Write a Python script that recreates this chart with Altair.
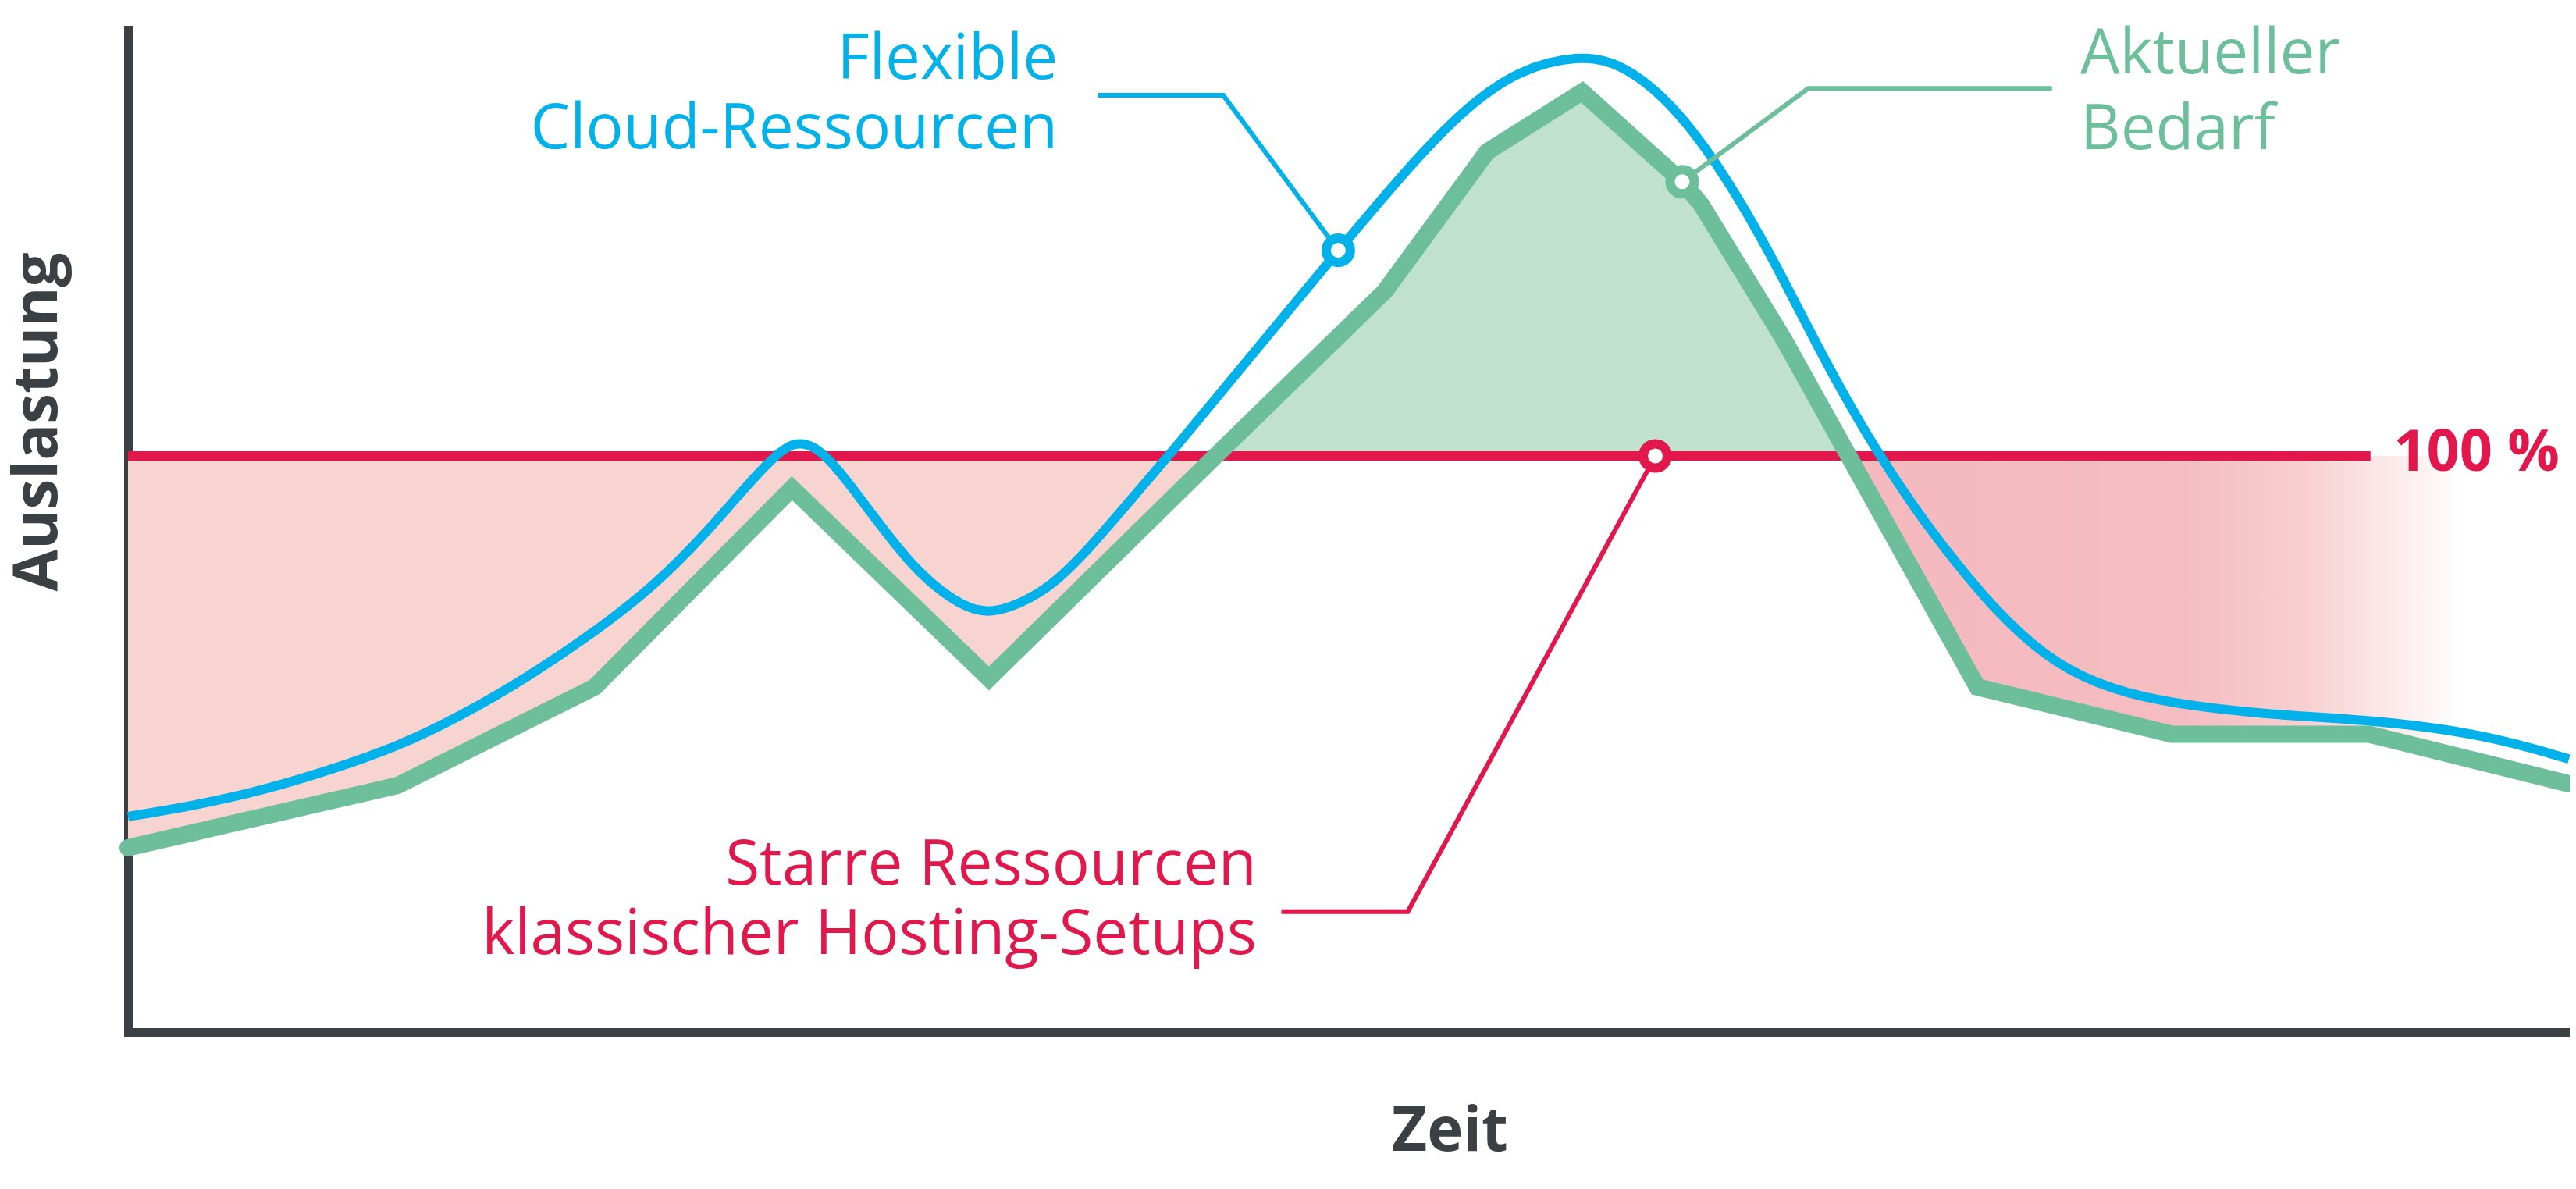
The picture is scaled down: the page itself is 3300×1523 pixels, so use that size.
import altair as alt
import pandas as pd

# ---- data (Zeit 0..100, Auslastung in %, 100 = starre Kapazität) ----
green_x = [0, 11.04, 19.12, 27.2, 35.27, 43.35, 44.55, 51.49, 55.68, 59.57, 63.67, 64.44,
           67.81, 70.49, 75.76, 83.73, 91.81, 100]
green_y = [32.0, 42.8, 59.9, 94.4, 61.4, 95.0, 100, 128.6, 152.8, 163.2, 147.6, 143.7,
           120.4, 100, 59.9, 51.7, 51.7, 43.1]

blue_x = [0, 2.83, 5.52, 8.22, 11.11, 13.60, 16.29, 19.19, 21.68, 23.70, 25.38, 26.39,
          27.20, 28.07, 29.08, 30.43, 32.11, 33.79, 35.14, 36.48, 37.83, 39.44, 41.20,
          42.73, 46.15, 49.58, 52.92, 54.96, 57.0, 59.41, 61.08, 63.12, 65.16,
          67.2, 69.24, 71.28, 73.32, 74.71, 76.52, 78.57, 80.57, 83.06, 87.5, 92.01,
          96.52, 100]
blue_y = [37.41, 39.40, 41.97, 45.39, 49.67, 54.80, 61.36, 69.63, 77.9, 86.7, 95.02,
          99.58, 102.4, 102.1, 97.87, 90.17, 80.76, 74.77, 72.4, 74.20, 77.34, 84.18,
          93.02, 100.5, 118.1, 135.7, 152.4, 161.0, 167.1, 169.6, 168.4, 161.9,
          150.6, 135.9, 118.7, 103.1, 90.1, 82.4, 73.06, 65.05, 60.5, 57.4, 55.1, 54.2,
          51.7, 47.4]

capacity_x = [0, 91.87]
capacity_y = [100, 100]
capacity_level = 100

cross_left = 44.55
cross_right = 70.49

marker_x = [49.58, 63.67, 62.57]
marker_y = [135.7, 147.6, 100]

lead_blue_x = [49.58, 44.87, 39.72]
lead_blue_y = [135.7, 162.6, 162.6]
lead_green_x = [63.67, 68.83, 78.82]
lead_green_y = [147.6, 163.8, 163.8]
lead_red_x = [62.57, 52.43, 47.25]
lead_red_y = [100, 20.9, 20.9]

blue_text = ["Flexible", "Cloud-Ressourcen"]
blue_text_x = [38.09, 38.09]
blue_text_y = [165.5, 153.4]
green_text = ["Aktueller", "Bedarf"]
green_text_x = [79.98, 79.98]
green_text_y = [166.4, 153.2]
red_text = ["Starre Ressourcen", "klassischer Hosting-Setups"]
red_text_x = [46.24, 46.24]
red_text_y = [25.6, 13.6]
pct_text = ["100 %"]
pct_text_x = [92.81]
pct_text_y = [97.4]

BLUE = "#00b1ea"
GREEN = "#6dbf9b"
GREEN_FILL = "#bfe1cd"
RED = "#e2184d"
PINK = "#f8d4d0"
DARK = "#3b4045"
FONT = "Open Sans"

green = pd.DataFrame({"x": green_x, "y": green_y, "i": range(len(green_x))})
blue = pd.DataFrame({"x": blue_x, "y": blue_y})
cap = pd.DataFrame({"x": capacity_x, "y": capacity_y})

xs = alt.Scale(domain=[0, 100], nice=False, zero=False)
ys = alt.Scale(domain=[0, 174], nice=False, zero=False)
x_axis = alt.Axis(title="Zeit", titleX=1693, titleY=151, titleAlign="center",
                  titleBaseline="alphabetic")
y_axis = alt.Axis(title="Auslastung", titleAngle=270, titleX=-92, titleY=502,
                  titleAlign="center", titleBaseline="alphabetic")


def X():
    return alt.X("x:Q", scale=xs, axis=x_axis)


def Y():
    return alt.Y("y:Q", scale=ys, axis=y_axis, stack=None)


def band(flt, color):
    return (alt.Chart(green)
            .transform_filter(flt)
            .transform_calculate(cap=str(capacity_level))
            .mark_area(color=color, opacity=1, interpolate="linear")
            .encode(x=X(), y=Y(), y2="cap:Q"))


left_area = band(alt.datum.x <= cross_left, PINK)
mid_area = band((alt.datum.x >= cross_left) & (alt.datum.x <= cross_right), GREEN_FILL)

grad = {
    "gradient": "linear", "x1": 0, "x2": 1, "y1": 0, "y2": 0,
    "stops": [
        {"offset": 0, "color": "#f5b9be"},
        {"offset": 0.47, "color": "#f5bdc1"},
        {"offset": 0.63, "color": "#f8cfd0"},
        {"offset": 0.855, "color": "#ffffff"},
        {"offset": 1, "color": "#ffffff"},
    ],
}
right_area = band(alt.datum.x >= cross_right, grad)

cap_line = alt.Chart(cap).mark_line(color=RED, strokeWidth=12, strokeCap="butt").encode(
    x=X(), y=Y())

blue_line = alt.Chart(blue).mark_line(color=BLUE, strokeWidth=12, interpolate="basis",
                                      strokeCap="butt").encode(x=X(), y=Y())

green_line = alt.Chart(green).mark_line(color=GREEN, strokeWidth=22, strokeJoin="miter",
                                        strokeCap="round").encode(x=X(), y=Y(), order="i:Q")


def leader(xv, yv, color):
    df = pd.DataFrame({"x": xv, "y": yv, "i": range(len(xv))})
    return alt.Chart(df).mark_line(color=color, strokeWidth=6, strokeJoin="miter").encode(
        x=X(), y=Y(), order="i:Q")


def marker(i, color):
    df = pd.DataFrame({"x": [marker_x[i]], "y": [marker_y[i]]})
    return alt.Chart(df).mark_point(shape="circle", filled=True, fill="white", stroke=color,
                                    strokeWidth=12, size=962, opacity=1,
                                    fillOpacity=1, strokeOpacity=1).encode(x=X(), y=Y())


def label(txt, xv, yv, color, align, size=80, weight="normal"):
    df = pd.DataFrame({"x": xv, "y": yv, "t": txt})
    return alt.Chart(df).mark_text(color=color, align=align, baseline="alphabetic",
                                   font=FONT, fontSize=size, fontWeight=weight).encode(
        x=X(), y=Y(), text="t:N")


chart = alt.layer(
    left_area, right_area, mid_area, cap_line, blue_line, green_line,
    leader(lead_blue_x, lead_blue_y, BLUE),
    leader(lead_green_x, lead_green_y, GREEN),
    leader(lead_red_x, lead_red_y, RED),
    marker(0, BLUE), marker(1, GREEN), marker(2, RED),
    label(blue_text, blue_text_x, blue_text_y, BLUE, "right"),
    label(green_text, green_text_x, green_text_y, GREEN, "left"),
    label(red_text, red_text_x, red_text_y, RED, "right"),
    label(pct_text, pct_text_x, pct_text_y, RED, "left", size=74, weight="bold"),
).properties(
    width=3127, height=1284,
    autosize=alt.AutoSizeParams(type="none"),
    padding={"left": 156, "top": 30, "right": 1, "bottom": 185},
    background="white",
).configure_view(stroke=None).configure_axis(
    grid=False, ticks=False, labels=False, domainColor=DARK, domainWidth=11,
    domainCap="square", titleFont=FONT, titleFontWeight="bold", titleColor=DARK,
    titleFontSize=78,
)

chart.save("out.html", embed_options={"renderer": "svg", "actions": False})
